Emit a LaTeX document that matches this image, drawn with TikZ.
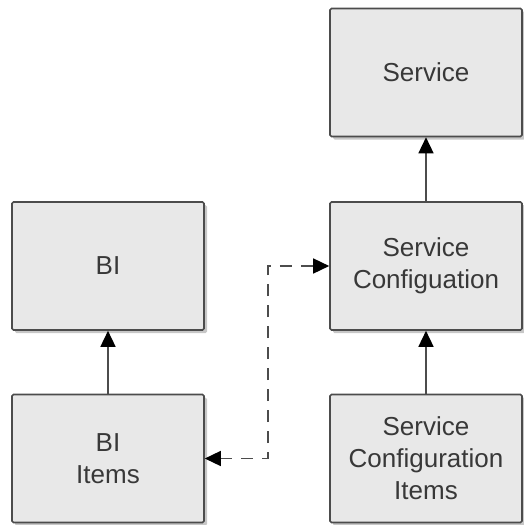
\documentclass[tikz,border=0pt]{standalone}
\usepackage{fontspec}
\setmainfont{Liberation Sans}
\usetikzlibrary{arrows.meta,shadows}

\begin{document}
\begin{tikzpicture}[x=1pt,y=-1pt,
	box/.style={draw=black!70, line width=1.6pt, fill=black!9, rounded corners=1.5pt,
		minimum width=192pt, minimum height=128pt, align=center, text=black!78,
		font=\fontsize{26}{32}\selectfont,
		drop shadow={shadow xshift=3pt, shadow yshift=-3pt, fill=black!40, opacity=.55}},
	link/.style={draw=black!70, line width=1.5pt, arrows={-Triangle[length=16pt,width=15pt,color=black]}},
	dashlink/.style={draw=black!70, line width=1.5pt, arrows={Triangle[length=16pt,width=15pt,color=black]-Triangle[length=16pt,width=15pt,color=black]}, dash pattern=on 12pt off 9pt}]
	\useasboundingbox (0,0) rectangle (523,525);
	% right column
	\node[box] (service) at (426,72.5) {Service};
	\node[box] (sconf) at (426,266) {Service\\Configuation};
	\node[box] (scitems) at (426,458.5) {Service\\Configuration\\Items};
	% left column
	\node[box] (bi) at (108,266) {BI};
	\node[box] (biitems) at (108,458.5) {BI\\Items};
	% connectors
	\draw[link] (sconf) -- (service);
	\draw[link] (scitems) -- (sconf);
	\draw[link] (biitems) -- (bi);
	\coordinate (turn) at (268,360);
	\draw[dashlink] (biitems.east) -- (biitems.east -| turn) -- (sconf.west -| turn) -- (sconf.west);
\end{tikzpicture}
\end{document}
